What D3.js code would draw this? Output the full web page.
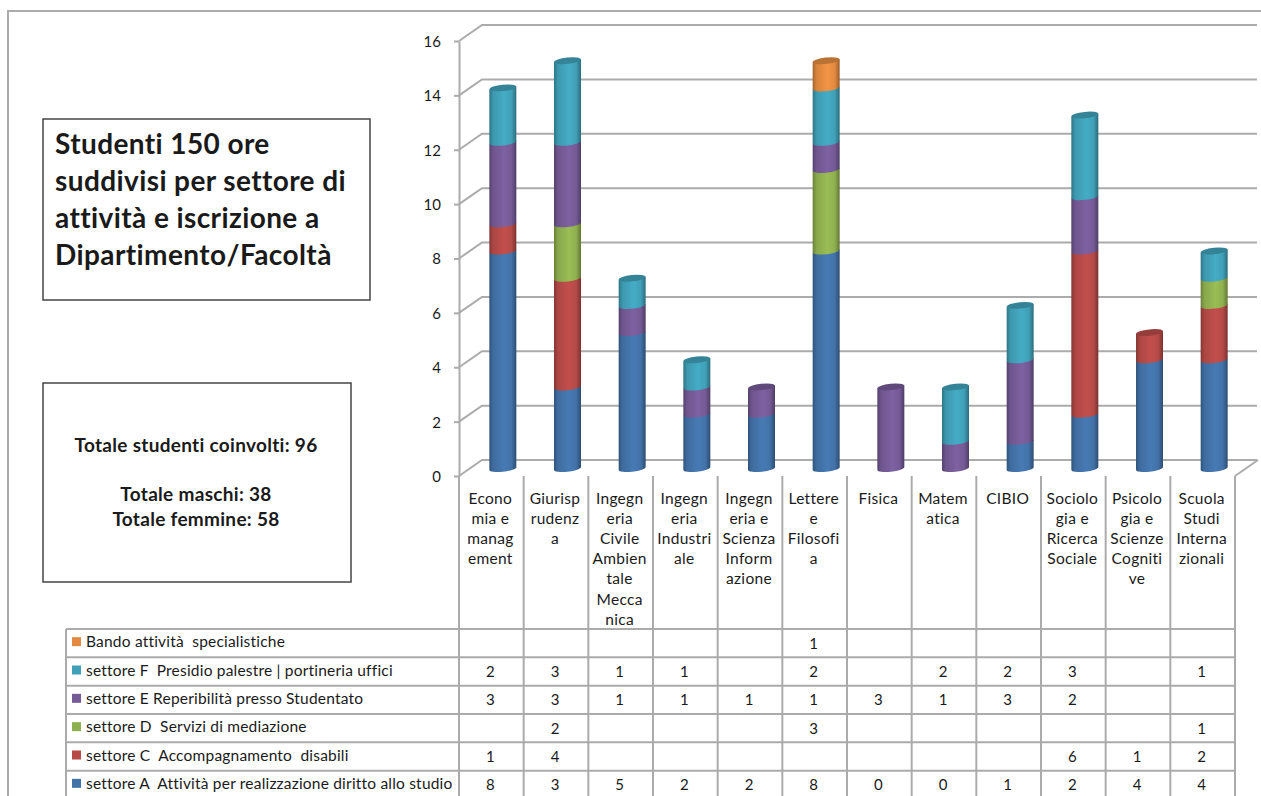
<!DOCTYPE html>
<html>
<head>
<meta charset="utf-8">
<script src="https://cdn.jsdelivr.net/npm/d3@7"></script>
<style>
  html, body { margin: 0; padding: 0; background: #fff; overflow: hidden; }
  svg { display: block; }
  text { font-family: Lato, "Open Sans", sans-serif; fill: #1a1a1a; white-space: pre; }
</style>
</head>
<body>
<svg id="chart"></svg>
<script>
// categories, wrapped the same way the cells wrap them
const categories = ['Economia', 'Giurisprudenza', 'IngCivile', 'IngIndustriale', 'IngScienza', 'Lettere', 'Fisica', 'Matematica', 'CIBIO', 'Sociologia', 'Psicologia', 'ScuolaStudi']
const categoryLines = [
  ['Econo', 'mia e', 'manag', 'ement'],
  ['Giurisp', 'rudenz', 'a'],
  ['Ingegn', 'eria', 'Civile', 'Ambien', 'tale', 'Mecca', 'nica'],
  ['Ingegn', 'eria', 'Industri', 'ale'],
  ['Ingegn', 'eria e', 'Scienza', 'Inform', 'azione'],
  ['Lettere', 'e', 'Filosofi', 'a'],
  ['Fisica'],
  ['Matem', 'atica'],
  ['CIBIO'],
  ['Sociolo', 'gia e', 'Ricerca', 'Sociale'],
  ['Psicolo', 'gia e', 'Scienze', 'Cogniti', 've'],
  ['Scuola', 'Studi', 'Interna', 'zionali']
]

// series values, null = empty table cell
const settoreA = [8, 3, 5, 2, 2, 8, 0, 0, 1, 2, 4, 4]
const settoreC = [1, 4, null, null, null, null, null, null, null, 6, 1, 2]
const settoreD = [null, 2, null, null, null, 3, null, null, null, null, null, 1]
const settoreE = [3, 3, 1, 1, 1, 1, 3, 1, 3, 2, null, null]
const settoreF = [2, 3, 1, 1, null, 2, null, 2, 2, 3, null, 1]
const bando = [null, null, null, null, null, 1, null, null, null, null, null, null]

const seriesNames = [
  'settore A  Attività per realizzazione diritto allo studio',
  'settore C  Accompagnamento  disabili',
  'settore D  Servizi di mediazione',
  'settore E Reperibilità presso Studentato',
  'settore F  Presidio palestre | portineria uffici',
  'Bando attività  specialistiche'
]
const seriesValues = [settoreA, settoreC, settoreD, settoreE, settoreF, bando]
const seriesColors = ['#4272a8', '#b54a47', '#8fb04f', '#755a96', '#40a0b8', '#e28a3f']

const yTicks = [0, 2, 4, 6, 8, 10, 12, 14, 16]
const titleLines = ['Studenti 150 ore', 'suddivisi per settore di', 'attività e iscrizione a', 'Dipartimento/Facoltà']
const totalLines = ['Totale studenti coinvolti: 96', '', 'Totale maschi: 38', 'Totale femmine: 58']

const width = 1261, height = 796
const gridColor = '#ababab'
const depthX = 23, depthY = -16   // 3d offset of the back wall
const barW = 27, ry = 3.2

const svg = d3.select('#chart').attr('width', width).attr('height', height)

const x = d3.scaleBand().domain(categories).range([459, 1235])
const y = d3.scaleLinear().domain([0, 16]).range([476, 41])
const rowOrder = d3.range(seriesNames.length).reverse()
const row = d3.scaleBand().domain(rowOrder).range([629, 799])

// outer frame of the worksheet object
svg.append('path')
  .attr('d', `M8,${height}V11H${width}`)
  .attr('fill', 'none').attr('stroke', gridColor).attr('stroke-width', 2)

// gridlines on the back wall and floor
svg.append('g').selectAll('path').data(yTicks).join('path')
  .attr('d', d => `M${x.range()[0]},${y(d)}l${depthX},${depthY}H${x.range()[1] + depthX - 1}`)
  .attr('fill', 'none').attr('stroke', gridColor).attr('stroke-width', 2)
svg.append('path')
  .attr('d', `M${x.range()[1]},${y(0)}l${depthX},${depthY}`)
  .attr('fill', 'none').attr('stroke', gridColor).attr('stroke-width', 2)

const axis = svg.append('g')
  .attr('transform', `translate(${x.range()[0]},0)`)
  .call(d3.axisLeft(y).tickValues(yTicks).tickSize(5).tickSizeOuter(0).tickPadding(13))
axis.selectAll('path,line').attr('stroke', gridColor).attr('stroke-width', 2)
axis.selectAll('text').attr('font-size', 15).attr('dy', '0.36em').style('font-family', 'Lato')

// cylinder shading
const defs = svg.append('defs')
seriesColors.forEach((c, i) => {
  const g = defs.append('linearGradient').attr('id', 'cyl' + i)
  const stops = [
    [0, d3.color(c).darker(0.9)], [0.14, d3.color(c).darker(0.15)],
    [0.55, d3.color(c).brighter(0.2)], [0.82, d3.color(c)], [1, d3.color(c).darker(1.1)]
  ]
  stops.forEach(s => g.append('stop').attr('offset', s[0]).attr('stop-color', s[1]))
})

// stacked bars, sit half way into the depth of the floor
const stackData = d3.stack()
  .keys(d3.range(seriesValues.length))
  .value((d, k) => seriesValues[k][d] || 0)(d3.range(categories.length))

const barsG = svg.append('g').attr('transform', `translate(${depthX / 2},-7.5)`)
const tilt = 1.4  // the ellipses lean up to the right

function segmentPath(d, i) {
  const xl = x(categories[i]) + x.bandwidth() / 2 - barW / 2, xr = xl + barW
  const yTop = y(d[1]), yBot = y(d[0])
  return `M${xl},${yTop + tilt}L${xr},${yTop - tilt}L${xr},${yBot - tilt}` +
    `A${barW / 2},${ry} -6 0 1 ${xl},${yBot + tilt}Z`
}

stackData.forEach((layer, k) => {
  barsG.append('g').selectAll('path')
    .data(layer.map((d, i) => ({ d, i })).filter(o => o.d[1] > o.d[0]))
    .join('path')
    .attr('d', o => segmentPath(o.d, o.i))
    .attr('fill', `url(#cyl${k})`)
})

// top cap goes on the uppermost segment of each bar
categories.forEach((c, i) => {
  const k = d3.range(seriesValues.length).filter(s => seriesValues[s][i] > 0).pop()
  barsG.append('ellipse')
    .attr('cx', 0).attr('cy', 0)
    .attr('rx', barW / 2).attr('ry', ry)
    .attr('transform', `translate(${x(c) + x.bandwidth() / 2},${y(stackData[k][i][1])}) rotate(-6)`)
    .attr('fill', d3.color(seriesColors[k]).darker(0.55))
})

// data table under the chart
const lines = svg.append('g').attr('stroke', gridColor).attr('stroke-width', 2).attr('fill', 'none')
const columnEdges = categories.map(c => x(c)).concat(x.range()[1])
lines.selectAll('.v').data(columnEdges).join('line').attr('class', 'v')
  .attr('x1', d => d).attr('x2', d => d).attr('y1', y(0)).attr('y2', height)
lines.append('line').attr('x1', 66).attr('x2', 66).attr('y1', row.range()[0]).attr('y2', height)
lines.selectAll('.h').data(rowOrder).join('line').attr('class', 'h')
  .attr('x1', 66).attr('x2', x.range()[1])
  .attr('y1', d => row(d)).attr('y2', d => row(d))

const labels = svg.append('g').attr('text-anchor', 'middle').attr('font-size', 15.5).attr('letter-spacing', 0.3)
categories.forEach((c, i) => {
  labels.append('text').selectAll('tspan').data(categoryLines[i]).join('tspan')
    .attr('x', x(c) + x.bandwidth() / 2 - 1)
    .attr('y', (d, j) => 503.5 + j * 20.2)
    .text(d => d)
})

const legendG = svg.append('g')
rowOrder.forEach(k => {
  const cy = row(k) + row.bandwidth() / 2
  legendG.append('rect').attr('x', 72).attr('y', cy - 6).attr('width', 9).attr('height', 9)
    .attr('fill', seriesColors[k])
  legendG.append('text').attr('x', 86).attr('y', cy + 4)
    .attr('font-size', 15.5).attr('letter-spacing', 0.2).text(seriesNames[k])
  categories.forEach((c, i) => {
    if (seriesValues[k][i] === null) return
    legendG.append('text')
      .attr('x', x(c) + x.bandwidth() / 2 - 1).attr('y', cy + 5.5)
      .attr('text-anchor', 'middle').attr('font-size', 15)
      .text(seriesValues[k][i])
  })
})

// the two text boxes on the left
function textBox(bx, by, w, h) {
  svg.append('rect').attr('x', bx).attr('y', by).attr('width', w).attr('height', h)
    .attr('fill', '#fff').attr('stroke', '#444').attr('stroke-width', 1.5)
}
textBox(43, 119, 327, 181)
svg.append('text').attr('font-size', 28).attr('font-weight', 700).attr('letter-spacing', 0.4)
  .selectAll('tspan').data(titleLines).join('tspan')
  .attr('x', 55).attr('y', (d, i) => 154 + i * 37).text(d => d)

textBox(43, 383, 308, 199)
svg.append('text').attr('font-size', 19).attr('font-weight', 700).attr('letter-spacing', 0.3).attr('text-anchor', 'middle')
  .selectAll('tspan').data(totalLines).join('tspan')
  .attr('x', 196).attr('y', (d, i) => 452 + i * 24.5).text(d => d)
</script>
</body>
</html>
